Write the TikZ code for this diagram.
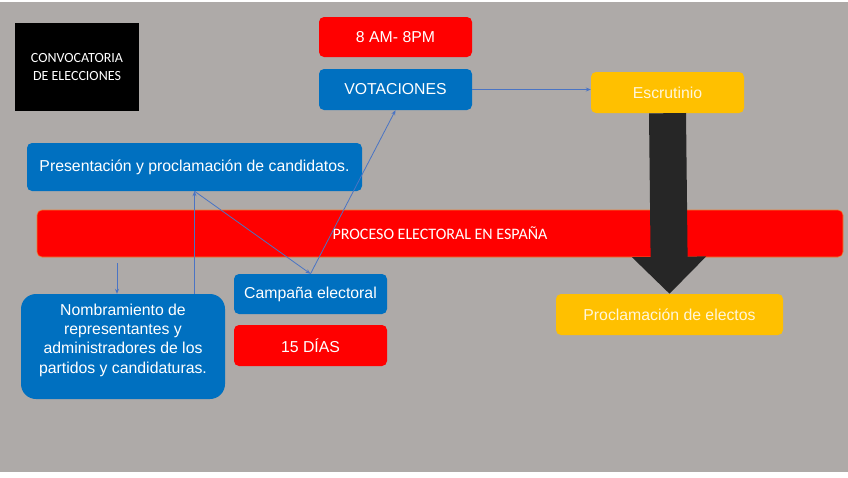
\documentclass[tikz,border=0pt]{standalone}
\usepackage{fontspec}
\setmainfont{Liberation Sans}
\newfontfamily\calib{Carlito}
\usetikzlibrary{arrows.meta,calc}
\definecolor{bggray}{HTML}{AEAAA8}
\definecolor{pblue}{HTML}{0070C0}
\definecolor{pred}{HTML}{FF0000}
\definecolor{pyellow}{HTML}{FFC000}
\definecolor{pdark}{HTML}{262626}
\definecolor{pline}{HTML}{4A74C4}
\definecolor{porange}{HTML}{ED7D31}
\definecolor{pcream}{HTML}{FFF6DA}
\begin{document}
\begin{tikzpicture}[x=1pt,y=-1pt,
  box/.style={rounded corners=5pt, inner sep=0pt, text=white, font=\fontsize{15.8}{18}\selectfont},
  bluebox/.style={box, fill=pblue},
  redbox/.style={box, fill=pred},
  yelbox/.style={box, fill=pyellow, text=pcream},
  conn/.style={draw=pline, line width=0.8pt, -{Stealth[length=5pt,width=4pt]}}
]
\useasboundingbox (0,0) rectangle (848,477);
\fill[white] (0,0) rectangle (848,477);
\fill[bggray] (0,2) rectangle (848,472);

\node[fill=black, text=white, inner sep=0pt, minimum width=124pt, minimum height=88pt,
  align=center, font=\calib\fontsize{14}{18}\selectfont] (conv) at (77,67) {CONVOCATORIA\\DE ELECCIONES};

\node[redbox, minimum width=153pt, minimum height=40pt] (hor) at (395.5,37) {8 AM- 8PM};
\node[bluebox, minimum width=153pt, minimum height=41pt] (vot) at (395.5,89.5) {VOTACIONES};
\node[yelbox, minimum width=153pt, minimum height=41pt] (esc) at (667.5,92.5) {Escrutinio};
\node[bluebox, minimum width=335pt, minimum height=48pt] (pres) at (194.5,167) {Presentación y proclamación de candidatos.};
\node[redbox, draw=porange, line width=0.6pt, minimum width=806pt, minimum height=47pt,
  font=\calib\fontsize{16}{18}\selectfont] (bar) at (440,233.5) {PROCESO ELECTORAL EN ESPAÑA};
\node[yelbox, minimum width=227pt, minimum height=41pt] (proc) at (669.5,314.5) {Proclamación de electos};
\node[bluebox, rounded corners=15pt, minimum width=204pt, minimum height=105pt] (nomb) at (123,346.5) {};
\node[text=white, align=center, inner sep=0pt, font=\fontsize{15.8}{19.3}\selectfont] (nombtxt) at (123,340)
  {Nombramiento de\\representantes y\\administradores de los\\partidos y candidaturas.};
\node[bluebox, minimum width=153pt, minimum height=40pt] (camp) at (310.5,294) {Campaña electoral};
\node[redbox, minimum width=153pt, minimum height=41pt] (dias) at (310.5,345.5) {15 DÍAS};

% big dark arrow
\draw[pdark, line width=37pt, -{Triangle[length=37pt,width=72pt]}] (esc.south) -- (proc.north);

% connectors
\coordinate (c1) at (117,263);
\draw[conn] (vot.east) -- (vot.east -| esc.west);
\draw[conn] (c1) -- (c1 |- nomb.north);
\draw[conn] (nomb.north -| pres.south) -- (pres.south);
\draw[conn] (pres.south) -- (camp.north);
\draw[conn] (camp.north) -- (vot.south);
\end{tikzpicture}
\end{document}
